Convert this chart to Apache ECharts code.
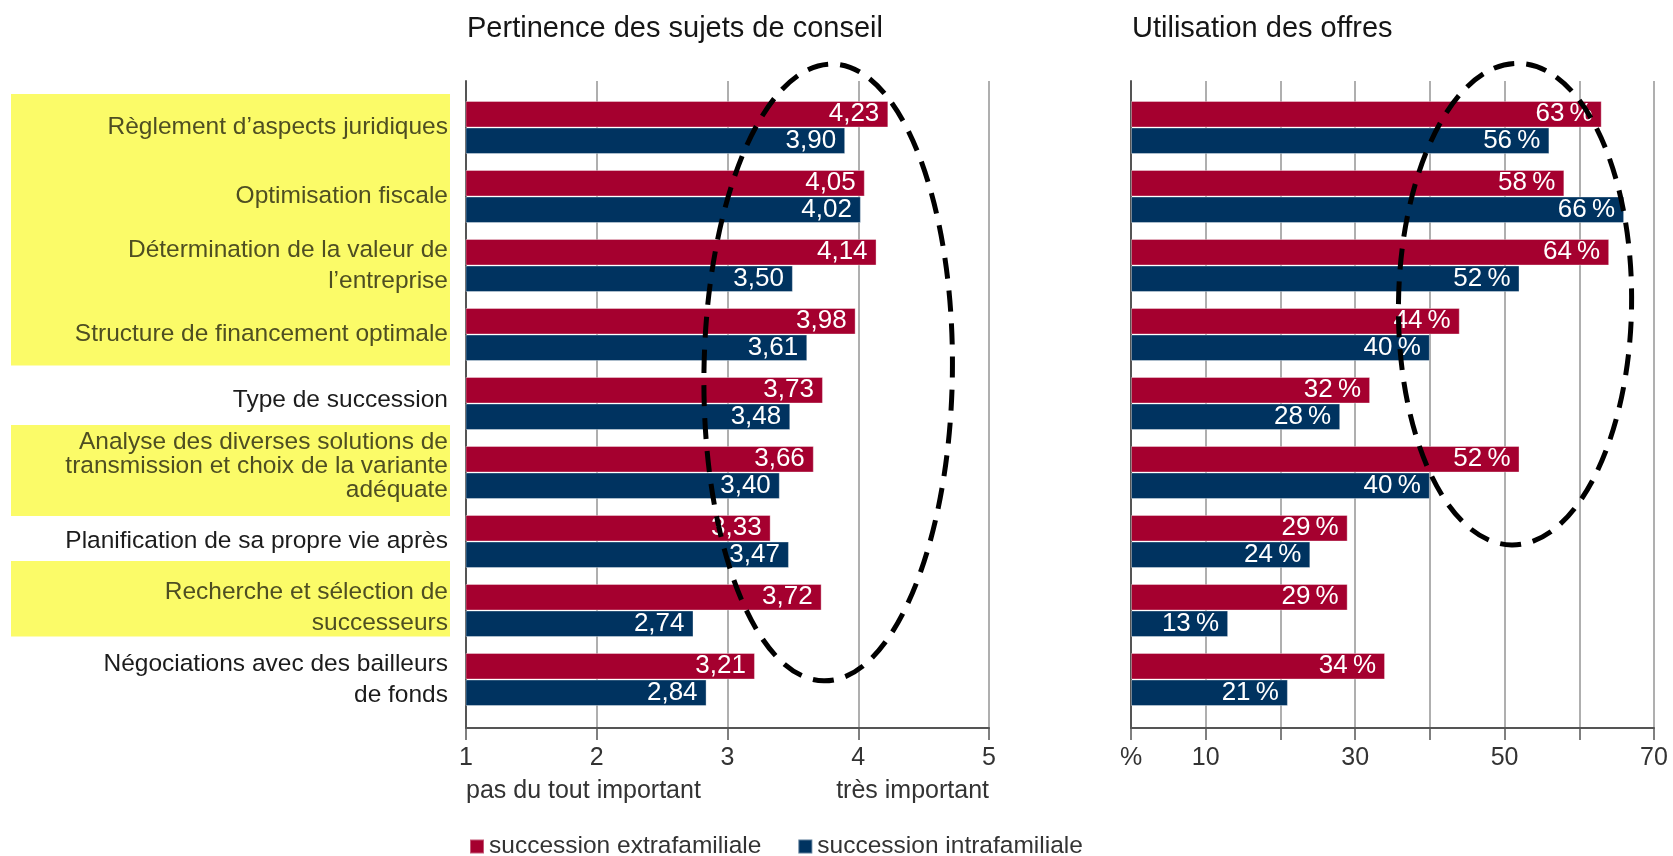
<!DOCTYPE html>
<html>
<head>
<meta charset="utf-8">
<script src="https://cdn.jsdelivr.net/npm/echarts@6/dist/echarts.min.js"></script>
<style>
html,body{margin:0;padding:0;background:#fff;}
#chart{width:1673px;height:856px;}
</style>
</head>
<body>
<div id="chart"></div>
<script>
// ---- data ----
const categories = [
  'Règlement d’aspects juridiques',
  'Optimisation fiscale',
  'Détermination de la valeur de\nl’entreprise',
  'Structure de financement optimale',
  'Type de succession',
  'Analyse des diverses solutions de\ntransmission et choix de la variante\nadéquate',
  'Planification de sa propre vie après',
  'Recherche et sélection de\nsuccesseurs',
  'Négociations avec des bailleurs\nde fonds'
];
const highlighted = [0, 1, 2, 3, 5, 7];
const seriesNames = ['succession extrafamiliale', 'succession intrafamiliale'];
const pertinenceExtra = [4.23, 4.05, 4.14, 3.98, 3.73, 3.66, 3.33, 3.72, 3.21];
const pertinenceIntra = [3.90, 4.02, 3.50, 3.61, 3.48, 3.40, 3.47, 2.74, 2.84];
const utilisationExtra = [63, 58, 64, 44, 32, 52, 29, 29, 34];
const utilisationIntra = [56, 66, 52, 40, 28, 40, 24, 13, 21];
const titles = ['Pertinence des sujets de conseil', 'Utilisation des offres'];
const scaleEnds = ['pas du tout important', 'très important'];

// ---- styles ----
const RED = '#A5002F';
const BLUE = '#003360';
const FONT = '"Liberation Sans", Arial, Helvetica, sans-serif';
const GRID_TOP_FRAME = 81, GRID_BOTTOM_FRAME = 128;
const GRID_TOP_BARS = 93, GRID_BOTTOM_BARS = 142;
const LEFT_L = 466, LEFT_R = 1673 - 989;
const RIGHT_L = 1131, RIGHT_R = 1673 - 1654;
const labelLift = [0, 0, 0, 0, 3, 6, 0, 3, 0];

const chart = echarts.init(document.getElementById('chart'));

const fmtComma = v => v.toFixed(2).replace('.', ',');
const fmtPct = v => v + '\u2009%';

function catLabel(value, idx) {
  const hl = highlighted.indexOf(idx) >= 0;
  const lines = value.split('\n');
  let key = hl ? 'h' : 'n';
  if (lines.length >= 3) key += '3';
  return lines.map(l => '{' + key + '|' + l + '}').join('\n');
}

const labelBase = {fontFamily: FONT, fontSize: 24.5};
const barLabel = (fmt) => ({
  show: true, position: 'insideRight', distance: 9,
  color: '#fff', fontFamily: FONT, fontSize: 26,
  formatter: p => fmt(p.value)
});
const barStyle = c => ({color: c, borderColor: 'rgba(255,255,255,0.35)', borderWidth: 1});

const frameX = (min, max, interval, fmt) => ({
  type: 'value', min, max, interval,
  axisLine: {show: true, lineStyle: {color: '#555', width: 2}},
  axisTick: {show: true, length: 12, lineStyle: {color: '#555', width: 1.5}},
  splitLine: {show: true, lineStyle: {color: '#959595', width: 1.5}},
  axisLabel: {show: true, margin: 18, color: '#333', fontFamily: FONT, fontSize: 25, formatter: fmt}
});
const hiddenX = (min, max) => ({
  type: 'value', min, max,
  axisLine: {show: false}, axisTick: {show: false}, splitLine: {show: false}, axisLabel: {show: false}
});
const frameY = () => ({
  type: 'category', data: [''],
  axisLine: {show: true, lineStyle: {color: '#555', width: 2}},
  axisTick: {show: false}, axisLabel: {show: false}, splitLine: {show: false}
});

const option = {
  animation: false,
  backgroundColor: '#fff',
  textStyle: {fontFamily: FONT},
  title: [
    {text: titles[0], left: 467, top: 14, padding: 0,
     textStyle: {fontFamily: FONT, fontSize: 29, fontWeight: 'normal', color: '#161616'}},
    {text: titles[1], left: 1132, top: 14, padding: 0,
     textStyle: {fontFamily: FONT, fontSize: 29, fontWeight: 'normal', color: '#161616'}}
  ],
  legend: {
    left: 469, top: 834, padding: 0, itemWidth: 14, itemHeight: 14, itemGap: 36,
    icon: 'rect', data: seriesNames,
    textStyle: {fontFamily: FONT, fontSize: 24.5, color: '#333'}
  },
  grid: [
    {left: LEFT_L, right: LEFT_R, top: GRID_TOP_BARS, bottom: GRID_BOTTOM_BARS},
    {left: LEFT_L, right: LEFT_R, top: GRID_TOP_FRAME, bottom: GRID_BOTTOM_FRAME},
    {left: RIGHT_L, right: RIGHT_R, top: GRID_TOP_BARS, bottom: GRID_BOTTOM_BARS},
    {left: RIGHT_L, right: RIGHT_R, top: GRID_TOP_FRAME, bottom: GRID_BOTTOM_FRAME}
  ],
  xAxis: [
    Object.assign(hiddenX(1, 5), {gridIndex: 0}),
    Object.assign(frameX(1, 5, 1, v => String(v)), {gridIndex: 1}),
    Object.assign(hiddenX(0, 70), {gridIndex: 2}),
    Object.assign(frameX(0, 70, 10, v => v === 0 ? '%' : (v % 20 === 10 ? String(v) : '')), {gridIndex: 3})
  ],
  yAxis: [
    {gridIndex: 0, type: 'category', inverse: true, z: 5,
     data: categories.map((c, i) => ({value: c, textStyle: {padding: [0, 0, labelLift[i] * 2, 0]}})),
     axisLine: {show: false}, axisTick: {show: false}, splitLine: {show: false},
     axisLabel: {show: true, margin: 18, formatter: catLabel,
       rich: {
         n: Object.assign({color: '#1c1c1c', lineHeight: 31}, labelBase),
         h: Object.assign({color: '#4e4e22', lineHeight: 31}, labelBase),
         n3: Object.assign({color: '#1c1c1c', lineHeight: 24}, labelBase),
         h3: Object.assign({color: '#4e4e22', lineHeight: 24}, labelBase)
       }}},
    Object.assign(frameY(), {gridIndex: 1}),
    {gridIndex: 2, type: 'category', data: categories, inverse: true,
     axisLine: {show: false}, axisTick: {show: false}, splitLine: {show: false}, axisLabel: {show: false}},
    Object.assign(frameY(), {gridIndex: 3})
  ],
  series: [
    {name: seriesNames[0], type: 'bar', xAxisIndex: 0, yAxisIndex: 0, data: pertinenceExtra,
     barWidth: 26.5, barGap: '0%', clip: true, itemStyle: barStyle(RED), label: barLabel(fmtComma), z: 3},
    {name: seriesNames[1], type: 'bar', xAxisIndex: 0, yAxisIndex: 0, data: pertinenceIntra,
     barWidth: 26.5, barGap: '0%', clip: true, itemStyle: barStyle(BLUE), label: barLabel(fmtComma), z: 3},
    {name: seriesNames[0], type: 'bar', xAxisIndex: 2, yAxisIndex: 2, data: utilisationExtra,
     barWidth: 26.5, barGap: '0%', clip: true, itemStyle: barStyle(RED), label: barLabel(fmtPct), z: 3},
    {name: seriesNames[1], type: 'bar', xAxisIndex: 2, yAxisIndex: 2, data: utilisationIntra,
     barWidth: 26.5, barGap: '0%', clip: true, itemStyle: barStyle(BLUE), label: barLabel(fmtPct), z: 3}
  ]
};
chart.setOption(option);

// ---- annotations placed from the axes ----
const py = i => chart.convertToPixel({yAxisIndex: 0}, i);
const step = py(1) - py(0);
const yAt = f => py(0) + f * step;
const pxL = v => chart.convertToPixel({xAxisIndex: 0}, v);
const pxR = v => chart.convertToPixel({xAxisIndex: 2}, v);

const hlRects = [[0, 3, -33.5, 31], [5, 5, -47.5, 43.5], [7, 7, -49.5, 26]];
const graphics = hlRects.map(r => ({
  type: 'rect', z: -1,
  shape: {x: 11, y: py(r[0]) + r[2], width: 439, height: (py(r[1]) + r[3]) - (py(r[0]) + r[2])},
  style: {fill: '#FBFB68'}
}));

const dash = {fill: null, stroke: '#000', lineWidth: 5, lineDash: [21, 12]};
function ellipse(cx, cy, rx, ry) {
  return {
    type: 'ellipse', z: 100, x: cx, y: cy, rotation: -0.014,
    shape: {cx: 0, cy: 0, rx: rx, ry: ry}, style: dash
  };
}
graphics.push(ellipse(pxL(3.77), yAt(3.55), pxL(3.77) - pxL(2.82), 4.47 * step));
graphics.push(ellipse(pxR(51.4), yAt(2.56), pxR(51.4) - pxR(35.8), 3.49 * step));
graphics.push({
  type: 'text', left: pxL(1), top: 779,
  style: {text: scaleEnds[0], font: '25px ' + FONT, fill: '#333'}
});
graphics.push({
  type: 'text', right: 1673 - pxL(5), top: 779,
  style: {text: scaleEnds[1], font: '25px ' + FONT, fill: '#333'}
});
chart.setOption({graphic: graphics});
</script>
</body>
</html>
